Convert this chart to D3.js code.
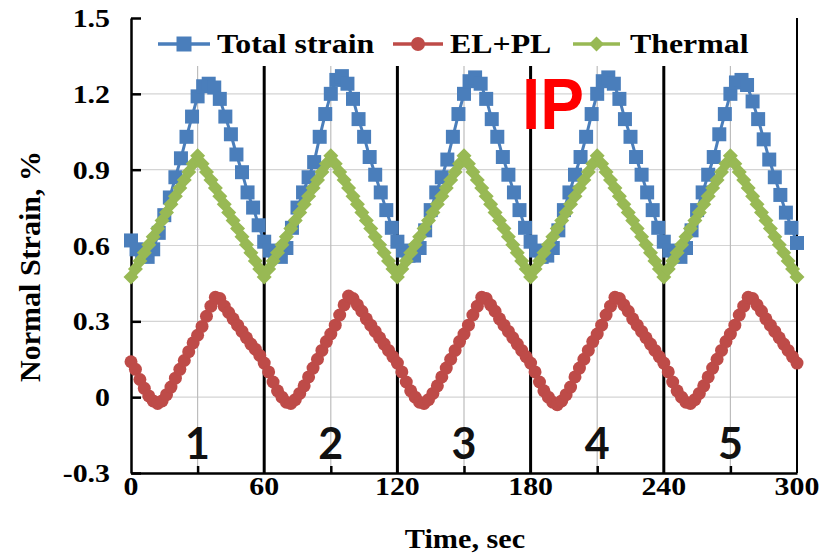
<!DOCTYPE html>
<html><head><meta charset="utf-8">
<script src="https://cdn.jsdelivr.net/npm/d3@7"></script>
<style>
html,body{margin:0;padding:0;background:#fff;}
svg{display:block;}
</style></head>
<body>
<div id="chart"></div>
<script>
// ---------- DATA ----------
const seriesNames = ["Total strain", "EL+PL", "Thermal"];
const xTickLabels = [0, 60, 120, 180, 240, 300];
const yTickLabels = [-0.3, 0, 0.3, 0.6, 0.9, 1.2, 1.5];
const cycleLabels = ["1", "2", "3", "4", "5"];
const cycleCenters = [30, 90, 150, 210, 270];
const cycleBounds = [60, 120, 180, 240];
const totalStep = 2.5, elplStep = 2, thermalStep = 2;

const totalStrain = [
 0.62,0.585,0.56,0.555,0.585,0.65,0.72,0.79,0.87,0.945,1.03,1.11,1.19,1.23,1.24,1.225,1.18,1.11,1.04,0.96,0.89,0.81,0.75,0.68,
 0.615,0.58,0.56,0.555,0.59,0.67,0.75,0.81,0.87,0.93,1.03,1.12,1.20,1.255,1.27,1.24,1.18,1.10,1.03,0.95,0.88,0.81,0.74,0.67,
 0.615,0.58,0.56,0.56,0.59,0.66,0.74,0.81,0.87,0.94,1.03,1.12,1.20,1.25,1.265,1.24,1.18,1.10,1.03,0.95,0.88,0.81,0.74,0.67,
 0.615,0.58,0.555,0.56,0.59,0.66,0.74,0.81,0.88,0.95,1.03,1.12,1.20,1.25,1.265,1.24,1.18,1.10,1.03,0.95,0.88,0.81,0.74,0.67,
 0.615,0.58,0.56,0.555,0.59,0.66,0.74,0.81,0.88,0.95,1.04,1.12,1.20,1.245,1.255,1.235,1.17,1.10,1.02,0.94,0.87,0.80,0.73,0.67,
 0.61
];
const elpl = [
 0.14,0.11,0.07,0.035,0.005,-0.015,-0.025,-0.015,0.01,0.04,0.075,0.11,0.145,0.18,0.215,0.245,0.28,0.32,0.36,0.395,0.39,0.36,0.335,0.31,0.285,0.26,0.235,0.21,0.19,0.165,
 0.135,0.10,0.06,0.025,0.00,-0.02,-0.025,-0.01,0.015,0.045,0.08,0.115,0.15,0.185,0.22,0.25,0.285,0.325,0.365,0.40,0.39,0.365,0.34,0.31,0.285,0.26,0.235,0.21,0.185,0.16,
 0.135,0.10,0.06,0.025,0.00,-0.02,-0.025,-0.01,0.015,0.045,0.08,0.115,0.15,0.185,0.22,0.25,0.285,0.325,0.36,0.395,0.39,0.365,0.34,0.31,0.285,0.26,0.235,0.21,0.185,0.16,
 0.135,0.10,0.06,0.025,0.00,-0.02,-0.03,-0.015,0.01,0.04,0.08,0.115,0.15,0.185,0.22,0.25,0.285,0.325,0.36,0.395,0.39,0.365,0.34,0.31,0.285,0.26,0.235,0.21,0.185,0.16,
 0.135,0.10,0.06,0.025,0.00,-0.02,-0.025,-0.01,0.015,0.045,0.08,0.115,0.15,0.185,0.22,0.25,0.285,0.325,0.36,0.395,0.39,0.365,0.34,0.31,0.285,0.26,0.235,0.21,0.185,0.16,
 0.135
];
const thermal = [
 0.475,0.507,0.539,0.571,0.603,0.635,0.667,0.699,0.731,0.763,0.795,0.827,0.859,0.891,0.923,0.955,0.923,0.891,0.859,0.827,0.795,0.763,0.731,0.699,0.667,0.635,0.603,0.571,0.539,0.507,
 0.475,0.507,0.539,0.571,0.603,0.635,0.667,0.699,0.731,0.763,0.795,0.827,0.859,0.891,0.923,0.955,0.923,0.891,0.859,0.827,0.795,0.763,0.731,0.699,0.667,0.635,0.603,0.571,0.539,0.507,
 0.475,0.507,0.539,0.571,0.603,0.635,0.667,0.699,0.731,0.763,0.795,0.827,0.859,0.891,0.923,0.955,0.923,0.891,0.859,0.827,0.795,0.763,0.731,0.699,0.667,0.635,0.603,0.571,0.539,0.507,
 0.475,0.507,0.539,0.571,0.603,0.635,0.667,0.699,0.731,0.763,0.795,0.827,0.859,0.891,0.923,0.955,0.923,0.891,0.859,0.827,0.795,0.763,0.731,0.699,0.667,0.635,0.603,0.571,0.539,0.507,
 0.475,0.507,0.539,0.571,0.603,0.635,0.667,0.699,0.731,0.763,0.795,0.827,0.859,0.891,0.923,0.955,0.923,0.891,0.859,0.827,0.795,0.763,0.731,0.699,0.667,0.635,0.603,0.571,0.539,0.507,
 0.475
];

// ---------- CHART ----------
const W = 822, H = 558;
const colors = {total: "#4A7EBB", elpl: "#BE4B48", thermal: "#98B954"};
const svg = d3.select("#chart").append("svg").attr("width", W).attr("height", H);

const x = d3.scaleLinear().domain([0, 300]).range([131, 797]);
const y = d3.scaleLinear().domain([-0.3, 1.5]).range([473, 18]);
const plotTop = 66;
const SERIF = "'Liberation Serif','Times New Roman',serif";
const SX = 1.15; // horizontal stretch of the source image text

function sText(g, px, py, txt, anchor, size, sx) {
  return g.append("text")
    .attr("transform", `translate(${px},${py}) scale(${sx},1)`)
    .attr("text-anchor", anchor)
    .attr("font-family", SERIF).attr("font-weight", "bold")
    .attr("font-size", size).attr("fill", "#000")
    .text(txt);
}

// gridlines
const grid = svg.append("g");
grid.selectAll("line.h").data(yTickLabels.filter(v => v > -0.3 && v < 1.5)).join("line")
  .attr("x1", x(0)).attr("x2", x(300)).attr("y1", d => y(d)).attr("y2", d => y(d))
  .attr("stroke", "#d4d4d4").attr("stroke-width", 1.2);
grid.selectAll("line.v").data(cycleCenters).join("line")
  .attr("x1", d => x(d)).attr("x2", d => x(d)).attr("y1", plotTop).attr("y2", y(-0.3))
  .attr("stroke", "#bdbdbd").attr("stroke-width", 1.2);

// cycle separators
svg.append("g").selectAll("line").data(cycleBounds).join("line")
  .attr("x1", d => x(d)).attr("x2", d => x(d)).attr("y1", plotTop).attr("y2", y(-0.3))
  .attr("stroke", "#000").attr("stroke-width", 3);

// axes
const yAxis = d3.axisLeft(y).tickValues(yTickLabels).tickSizeInner(-10).tickSizeOuter(0).tickFormat("");
const gy = svg.append("g").attr("transform", `translate(${x(0)},0)`).call(yAxis);
const xAxis = d3.axisBottom(x).tickValues(cycleCenters).tickSizeInner(-7).tickSizeOuter(0).tickFormat("");
const gx = svg.append("g").attr("transform", `translate(0,${y(-0.3)})`).call(xAxis);
[gx, gy].forEach(g => {
  g.select(".domain").attr("stroke", "#000").attr("stroke-width", 2.5);
  g.selectAll(".tick line").attr("stroke", "#000").attr("stroke-width", 2.5);
});
svg.append("line").attr("x1", x(300)).attr("x2", x(300)).attr("y1", y(1.5)).attr("y2", y(-0.3))
  .attr("stroke", "#000").attr("stroke-width", 2);

// tick labels
yTickLabels.forEach(v => {
  sText(svg, 110, y(v) + 9, v === 0 ? "0" : v.toFixed(1), "end", 26, SX);
});
xTickLabels.forEach(v => {
  sText(svg, x(v), 495, String(v), "middle", 26, SX);
});
// axis titles
sText(svg, 465, 548, "Time, sec", "middle", 27, 1.12);
svg.append("text")
  .attr("transform", `translate(40,${(18 + 473) / 2 + 21}) rotate(-90)`)
  .attr("text-anchor", "middle")
  .attr("font-family", SERIF).attr("font-weight", "bold").attr("font-size", 30)
  .text("Normal Strain, %");

// cycle labels
svg.append("g").selectAll("text").data(cycleLabels).join("text")
  .attr("x", (d, i) => x(cycleCenters[i])).attr("y", 459)
  .attr("text-anchor", "middle")
  .attr("font-family", "Lato, 'Open Sans', sans-serif").attr("font-weight", "bold")
  .attr("font-size", 43).attr("fill", "#111")
  .text(d => d);

// series
const mk = {
  square: (s) => `M${-s/2},${-s/2}h${s}v${s}h${-s}Z`,
  circle: (s) => d3.symbol(d3.symbolCircle, Math.PI * (s/2) * (s/2))(),
  diamond: (s) => `M0,${-s/2}L${s/2},0L0,${s/2}L${-s/2},0Z`
};
const series = [
  {name: seriesNames[0], vals: totalStrain, step: totalStep, color: colors.total, shape: "square", size: 14, lsize: 15},
  {name: seriesNames[1], vals: elpl, step: elplStep, color: colors.elpl, shape: "circle", size: 13, lsize: 14},
  {name: seriesNames[2], vals: thermal, step: thermalStep, color: colors.thermal, shape: "diamond", size: 15, lsize: 15}
];
const line = d3.line().x(d => x(d[0])).y(d => y(d[1]));
series.forEach(s => {
  const pts = s.vals.map((v, i) => [i * s.step, v]);
  const g = svg.append("g");
  g.append("path").attr("d", line(pts)).attr("fill", "none").attr("stroke", s.color).attr("stroke-width", 3);
  g.selectAll("path.m").data(pts).join("path").attr("class", "m")
    .attr("transform", d => `translate(${x(d[0])},${y(d[1])})`)
    .attr("d", mk[s.shape](s.size)).attr("fill", s.color);
});

// IP label
svg.append("text").attr("x", 522).attr("y", 129)
  .attr("font-family", "'Liberation Sans', Arial, sans-serif").attr("font-weight", "bold")
  .attr("font-size", 72).attr("fill", "#FF0000")
  .attr("textLength", 62).attr("lengthAdjust", "spacingAndGlyphs")
  .text("IP");

// legend
const legendItems = [
  {s: series[0], x1: 158, x2: 210, tx: 217},
  {s: series[1], x1: 393, x2: 443, tx: 450},
  {s: series[2], x1: 573, x2: 620, tx: 630}
];
const lg = svg.append("g");
legendItems.forEach(it => {
  const ly = 44;
  lg.append("line").attr("x1", it.x1).attr("x2", it.x2).attr("y1", ly).attr("y2", ly)
    .attr("stroke", it.s.color).attr("stroke-width", 3.5);
  lg.append("path").attr("transform", `translate(${(it.x1 + it.x2) / 2},${ly})`)
    .attr("d", mk[it.s.shape](it.s.lsize)).attr("fill", it.s.color);
  sText(lg, it.tx, ly + 9, it.s.name, "start", 27, 1.18);
});
</script>
</body></html>
